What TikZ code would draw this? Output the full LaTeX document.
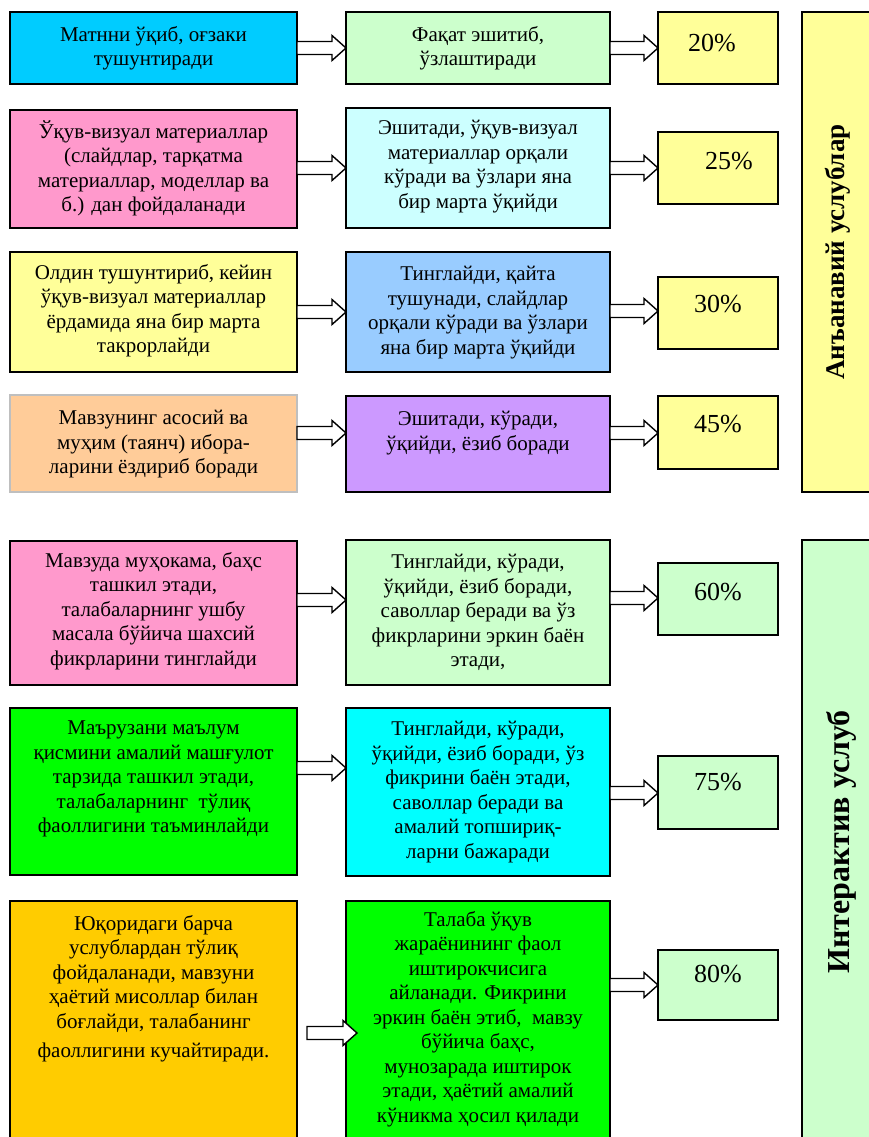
\documentclass[tikz,border=0pt]{standalone}
\usepackage{fontspec}
\setmainfont{Liberation Serif}
\usetikzlibrary{calc}

\definecolor{skyblue}{HTML}{00CCFF}
\definecolor{palegreen}{HTML}{CCFFCC}
\definecolor{paleyellow}{HTML}{FFFF99}
\definecolor{rosepink}{HTML}{FF99CC}
\definecolor{palecyan}{HTML}{CCFFFF}
\definecolor{paleblue}{HTML}{99CCFF}
\definecolor{tan}{HTML}{FFCC99}
\definecolor{lavender}{HTML}{CC99FF}
\definecolor{brightgreen}{HTML}{00FF00}
\definecolor{aqua}{HTML}{00FFFF}
\definecolor{gold}{HTML}{FFCC00}

% hollow block arrow between two points at the same height
\newcommand{\fatarrow}[2]{%
  \draw[fatline] ($(#1)+(0,-6.5)$) -- ($(#2)+(-14,-6.5)$) -- ($(#2)+(-14,-12.5)$)
    -- (#2) -- ($(#2)+(-14,12.5)$) -- ($(#2)+(-14,6.5)$) -- ($(#1)+(0,6.5)$) -- cycle;}

\begin{document}
\begin{tikzpicture}[x=1pt, y=-1pt,
    box/.style={draw=black, line width=1.6pt, inner sep=0pt, outer sep=0pt, anchor=north west},
    txt/.style={align=center, inner sep=0pt, anchor=north, font=\fontsize{21}{24.5}\selectfont,
                execute at begin node=\strut},
    pct/.style={anchor=base, inner sep=0pt, font=\fontsize{26}{28}\selectfont},
    fatline/.style={draw=black, fill=white, line width=1.4pt, line join=miter}]
        \useasboundingbox (0,0) rectangle (869,1137);
        \clip (0,0) rectangle (869,1137);

        % boxes: left column, middle column, percentages
        \node[box, fill=skyblue, minimum width=287pt, minimum height=72pt] (l1) at (10,12) {};
        \node[box, fill=palegreen, minimum width=264pt, minimum height=72pt] (m1) at (346,12) {};
        \node[box, fill=paleyellow, minimum width=120pt, minimum height=72pt] (p1) at (658,12) {};

        \node[box, fill=rosepink, minimum width=287pt, minimum height=118pt] (l2) at (10,110) {};
        \node[box, fill=palecyan, minimum width=264pt, minimum height=120pt] (m2) at (346,108) {};
        \node[box, fill=paleyellow, minimum width=120pt, minimum height=72pt] (p2) at (658,132) {};

        \node[box, fill=paleyellow, minimum width=287pt, minimum height=120pt] (l3) at (10,252) {};
        \node[box, fill=paleblue, minimum width=264pt, minimum height=120pt] (m3) at (346,252) {};
        \node[box, fill=paleyellow, minimum width=120pt, minimum height=72pt] (p3) at (658,277) {};

        \node[box, draw=black!25, fill=tan, minimum width=287pt, minimum height=97pt] (l4) at (10,395) {};
        \node[box, fill=lavender, minimum width=264pt, minimum height=96pt] (m4) at (346,396) {};
        \node[box, fill=paleyellow, minimum width=120pt, minimum height=73pt] (p4) at (658,396) {};

        \node[box, fill=rosepink, minimum width=287pt, minimum height=144pt] (l5) at (10,541) {};
        \node[box, fill=palegreen, minimum width=264pt, minimum height=145pt] (m5) at (346,540) {};
        \node[box, fill=palegreen, minimum width=120pt, minimum height=72pt] (p5) at (658,563) {};

        \node[box, fill=brightgreen, minimum width=287pt, minimum height=167pt] (l6) at (10,708) {};
        \node[box, fill=aqua, minimum width=264pt, minimum height=168pt] (m6) at (346,708) {};
        \node[box, fill=palegreen, minimum width=120pt, minimum height=73pt] (p6) at (658,756) {};

        \node[box, fill=gold, minimum width=287pt, minimum height=260pt] (l7) at (10,901) {};
        \node[box, fill=brightgreen, minimum width=264pt, minimum height=260pt] (m7) at (346,901) {};
        \node[box, fill=palegreen, minimum width=120pt, minimum height=70pt] (p7) at (658,950) {};

        % side bars
        \node[box, fill=paleyellow, minimum width=90pt, minimum height=480pt] (trad) at (802,12) {};
        \node[box, fill=palegreen, minimum width=90pt, minimum height=620pt] (inter) at (802,540) {};
        \node[rotate=90, font=\fontsize{27}{29}\selectfont\bfseries] (tradlbl) at (838,252) {Анъанавий услублар};
        \node[rotate=90, font=\fontsize{32}{34}\selectfont\bfseries] (interlbl) at (841,842) {Интерактив услуб};

        % texts
        \node[txt] (l1t) at (153.5,26) {Матнни ўқиб, оғзаки\\тушунтиради};
        \node[txt] (m1t) at (478,26) {Фақат эшитиб,\\ўзлаштиради};
        \node[pct] (p1t) at (712,52) {20\%};

        \node[txt] (l2t) at (153.5,120) {Ўқув-визуал материаллар\\(слайдлар, тарқатма\\материаллар, моделлар ва\\б.) дан фойдаланади};
        \node[txt] (m2t) at (478,120) {Эшитади, ўқув-визуал\\материаллар орқали\\кўради ва ўзлари яна\\бир марта ўқийди};
        \node[pct] (p2t) at (729,169) {25\%};

        \node[txt] (l3t) at (153.5,264) {Олдин тушунтириб, кейин\\ўқув-визуал материаллар\\ёрдамида яна бир марта\\такрорлайди};
        \node[txt] (m3t) at (478,266) {Тинглайди, қайта\\тушунади, слайдлар\\орқали кўради ва ўзлари\\яна бир марта ўқийди};
        \node[pct] (p3t) at (718,312) {30\%};

        \node[txt] (l4t) at (153.5,410) {Мавзунинг асосий ва\\муҳим (таянч) ибора-\\ларини ёздириб боради};
        \node[txt] (m4t) at (478,411) {Эшитади, кўради,\\ўқийди, ёзиб боради};
        \node[pct] (p4t) at (718,432) {45\%};

        \node[txt] (l5t) at (153.5,552) {Мавзуда муҳокама, баҳс\\ташкил этади,\\талабаларнинг ушбу\\масала бўйича шахсий\\фикрларини тинглайди};
        \node[txt] (m5t) at (478,554) {Тинглайди, кўради,\\ўқийди, ёзиб боради,\\саволлар беради ва ўз\\фикрларини эркин баён\\этади,};
        \node[pct] (p5t) at (718,600) {60\%};

        \node[txt] (l6t) at (153.5,721) {Маърузани маълум\\қисмини амалий машғулот\\тарзида ташкил этади,\\талабаларнинг~~тўлиқ\\фаоллигини таъминлайди};
        \node[txt] (m6t) at (478,721) {Тинглайди, кўради,\\ўқийди, ёзиб боради, ўз\\фикрини баён этади,\\саволлар беради ва\\амалий топшириқ-\\ларни бажаради};
        \node[pct] (p6t) at (718,790) {75\%};

        \node[txt] (l7t) at (153.5,915) {Юқоридаги барча\\услублардан тўлиқ\\фойдаланади, мавзуни\\ҳаётий мисоллар билан\\боғлайди, талабанинг\\[5pt]фаоллигини кучайтиради.};
        \node[txt] (m7t) at (478,911) {Талаба ўқув\\жараёнининг фаол\\иштирокчисига\\айланади. Фикрини\\эркин баён этиб,~~мавзу\\бўйича баҳс,\\мунозарада иштирок\\этади, ҳаётий амалий\\кўникма ҳосил қилади};
        \node[pct] (p7t) at (718,982) {80\%};

        % arrows
        \fatarrow{l1.east |- 0,48}{m1.west |- 0,48}
        \fatarrow{m1.east |- 0,48}{p1.west |- 0,48}
        \fatarrow{l2.east |- 0,168}{m2.west |- 0,168}
        \fatarrow{m2.east |- 0,168}{p2.west |- 0,168}
        \fatarrow{l3.east |- 0,312}{m3.west |- 0,312}
        \fatarrow{m3.east |- 0,311}{p3.west |- 0,311}
        \fatarrow{l4.east |- 0,433}{m4.west |- 0,433}
        \fatarrow{m4.east |- 0,433}{p4.west |- 0,433}
        \fatarrow{l5.east |- 0,600}{m5.west |- 0,600}
        \fatarrow{m5.east |- 0,598}{p5.west |- 0,598}
        \fatarrow{l6.east |- 0,768}{m6.west |- 0,768}
        \fatarrow{m6.east |- 0,793}{p6.west |- 0,793}
        \fatarrow{$(l7.east |- 0,1033)+(10,0)$}{$(m7.west |- 0,1033)+(11,0)$}
        \fatarrow{m7.east |- 0,985}{p7.west |- 0,985}
\end{tikzpicture}
\end{document}
